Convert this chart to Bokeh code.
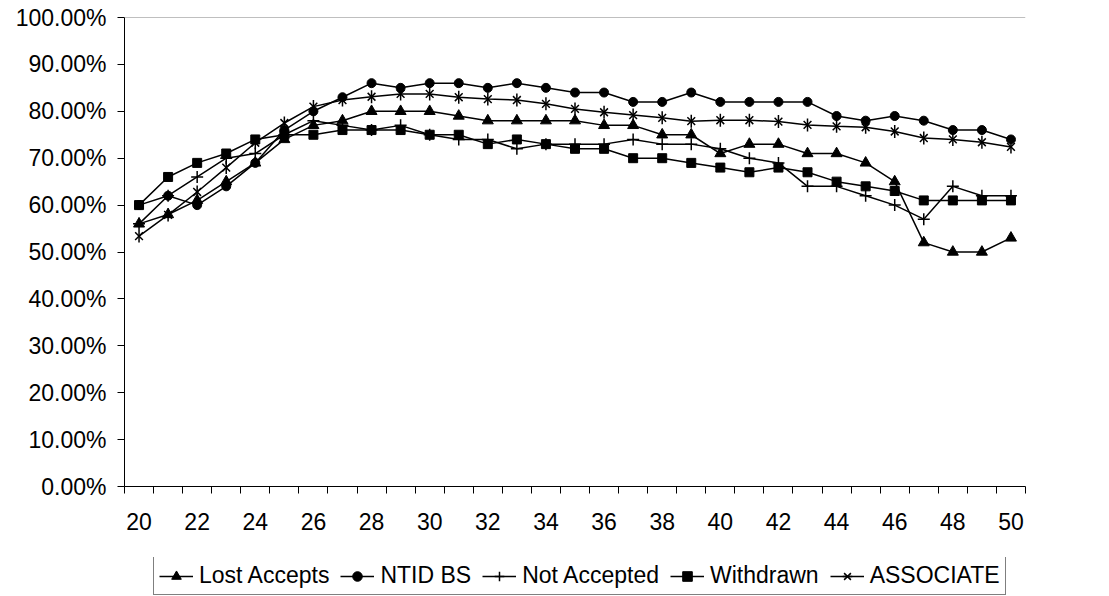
import math
from bokeh.plotting import figure
from bokeh.layouts import column
from bokeh.models import (Legend, LegendItem, FixedTicker, NumeralTickFormatter,
                          Span, Range1d, ColumnDataSource)
from bokeh.embed import file_html
from bokeh.resources import INLINE

# ---------------- data (percent) ----------------
ages = list(range(20, 51))
x_tick_labels = list(range(20, 51, 2))
y_ticks = [0, 10, 20, 30, 40, 50, 60, 70, 80, 90, 100]

lost_accepts = [56, 58, 61, 65, 69, 74, 77, 78, 80, 80, 80, 79, 78, 78, 78, 78,
                77, 77, 75, 75, 71, 73, 73, 71, 71, 69, 65, 52, 50, 50, 53]
ntid_bs = [60, 62, 60, 64, 69, 76, 80, 83, 86, 85, 86, 86, 85, 86, 85, 84,
           84, 82, 82, 84, 82, 82, 82, 82, 79, 78, 79, 78, 76, 76, 74]
not_accepted = [56, 62, 66, 70, 71, 75, 78, 77, 76, 77, 75, 74, 74, 72, 73, 73,
                73, 74, 73, 73, 72, 70, 69, 64, 64, 62, 60, 57, 64, 62, 62]
withdrawn = [60, 66, 69, 71, 74, 75, 75, 76, 76, 76, 75, 75, 73, 74, 73, 72,
             72, 70, 70, 69, 68, 67, 68, 67, 65, 64, 63, 61, 61, 61, 61]
associate = [53.4, 57.9, 62.8, 68.0, 73.3, 77.5, 81.0, 82.4, 83.1, 83.7, 83.7,
             83.0, 82.6, 82.4, 81.6, 80.5, 79.8, 79.2, 78.6, 77.9, 78.1, 78.1,
             77.8, 77.1, 76.8, 76.6, 75.7, 74.3, 74.0, 73.4, 72.4]
series_names = ["Lost Accepts", "NTID BS", "Not Accepted", "Withdrawn", "ASSOCIATE"]

FONT = "Liberation Sans"
FS = "23px"

src = ColumnDataSource(dict(
    x=ages,
    la=[v / 100 for v in lost_accepts],
    nb=[v / 100 for v in ntid_bs],
    na=[v / 100 for v in not_accepted],
    wd=[v / 100 for v in withdrawn],
    asc=[v / 100 for v in associate],
))

LW = 1.5


def draw_series(fig):
    """Draw the five series on fig, return legend items."""
    items = []
    r1 = fig.line("x", "la", source=src, line_color="black", line_width=LW)
    m1 = fig.scatter("x", "la", source=src, marker="triangle", size=11,
                     fill_color="black", line_color="black")
    items.append(LegendItem(label=series_names[0], renderers=[r1, m1]))

    r2 = fig.line("x", "nb", source=src, line_color="black", line_width=LW)
    m2 = fig.scatter("x", "nb", source=src, marker="circle", size=9,
                     fill_color="black", line_color="black")
    items.append(LegendItem(label=series_names[1], renderers=[r2, m2]))

    r3 = fig.line("x", "na", source=src, line_color="black", line_width=LW)
    m3 = fig.scatter("x", "na", source=src, marker="cross", size=12,
                     line_color="black", line_width=1.5)
    items.append(LegendItem(label=series_names[2], renderers=[r3, m3]))

    r4 = fig.line("x", "wd", source=src, line_color="black", line_width=LW)
    m4 = fig.scatter("x", "wd", source=src, marker="square", size=9,
                     fill_color="black", line_color="black")
    items.append(LegendItem(label=series_names[3], renderers=[r4, m4]))

    r5 = fig.line("x", "asc", source=src, line_color="black", line_width=LW)
    m5a = fig.scatter("x", "asc", source=src, marker="x", size=11,
                      line_color="black", line_width=1.5)
    m5b = fig.scatter("x", "asc", source=src, marker="dash", size=13,
                      angle=math.pi / 2, line_color="black", line_width=1.5)
    items.append(LegendItem(label=series_names[4], renderers=[r5, m5a, m5b]))
    return items


# ---------------- main chart ----------------
p = figure(width=1109, height=557, output_backend="svg", toolbar_location=None,
           x_range=Range1d(19.5, 50.5), y_range=Range1d(0, 1),
           min_border_left=124, min_border_right=84, min_border_top=17,
           min_border_bottom=71)
p.outline_line_color = None
p.xgrid.visible = False
p.ygrid.visible = False
p.background_fill_color = "white"
p.border_fill_color = "white"

xa = p.xaxis[0]
xa.ticker = FixedTicker(ticks=x_tick_labels,
                        minor_ticks=[a - 0.5 for a in ages] + [ages[-1] + 0.5])
xa.major_tick_out = 0
xa.major_tick_in = 0
xa.minor_tick_out = 7
xa.minor_tick_in = 0
xa.minor_tick_line_color = "black"
xa.axis_line_color = "black"
xa.major_label_text_font = FONT
xa.major_label_text_font_size = FS
xa.major_label_text_color = "black"
xa.major_label_standoff = 19

ya = p.yaxis[0]
ya.ticker = FixedTicker(ticks=[t / 100 for t in y_ticks], minor_ticks=[])
ya.formatter = NumeralTickFormatter(format="0.00%")
ya.major_tick_out = 7
ya.major_tick_in = 0
ya.minor_tick_line_color = None
ya.axis_line_color = "black"
ya.major_tick_line_color = "black"
ya.major_label_text_font = FONT
ya.major_label_text_font_size = FS
ya.major_label_text_color = "black"
ya.major_label_standoff = 11

p.add_layout(Span(location=1.0, dimension="width", line_color="#808080",
                  line_width=1))

draw_series(p)

# ---------------- legend strip ----------------
p2 = figure(width=1109, height=39, output_backend="svg", toolbar_location=None,
            x_axis_type=None, y_axis_type=None,
            x_range=Range1d(0, 1), y_range=Range1d(0, 1), min_border=0)
p2.outline_line_color = None
p2.xgrid.visible = False
p2.ygrid.visible = False
p2.background_fill_color = "white"
p2.border_fill_color = "white"
leg_items = draw_series(p2)  # data lies outside this strip's ranges

# the strip's frame is aligned with the main frame (starts at x=124)
legend = Legend(items=leg_items, orientation="horizontal", location=(29, 1),
                border_line_color="black", border_line_width=1,
                background_fill_color="white", background_fill_alpha=1,
                label_text_font=FONT, label_text_font_size=FS,
                label_text_color="black", glyph_width=34, glyph_height=24,
                spacing=11, padding=5, label_standoff=6, margin=0)
p2.add_layout(legend, "center")

layout = column(p, p2, spacing=0)
open("out.html", "w").write(file_html(layout, INLINE))
